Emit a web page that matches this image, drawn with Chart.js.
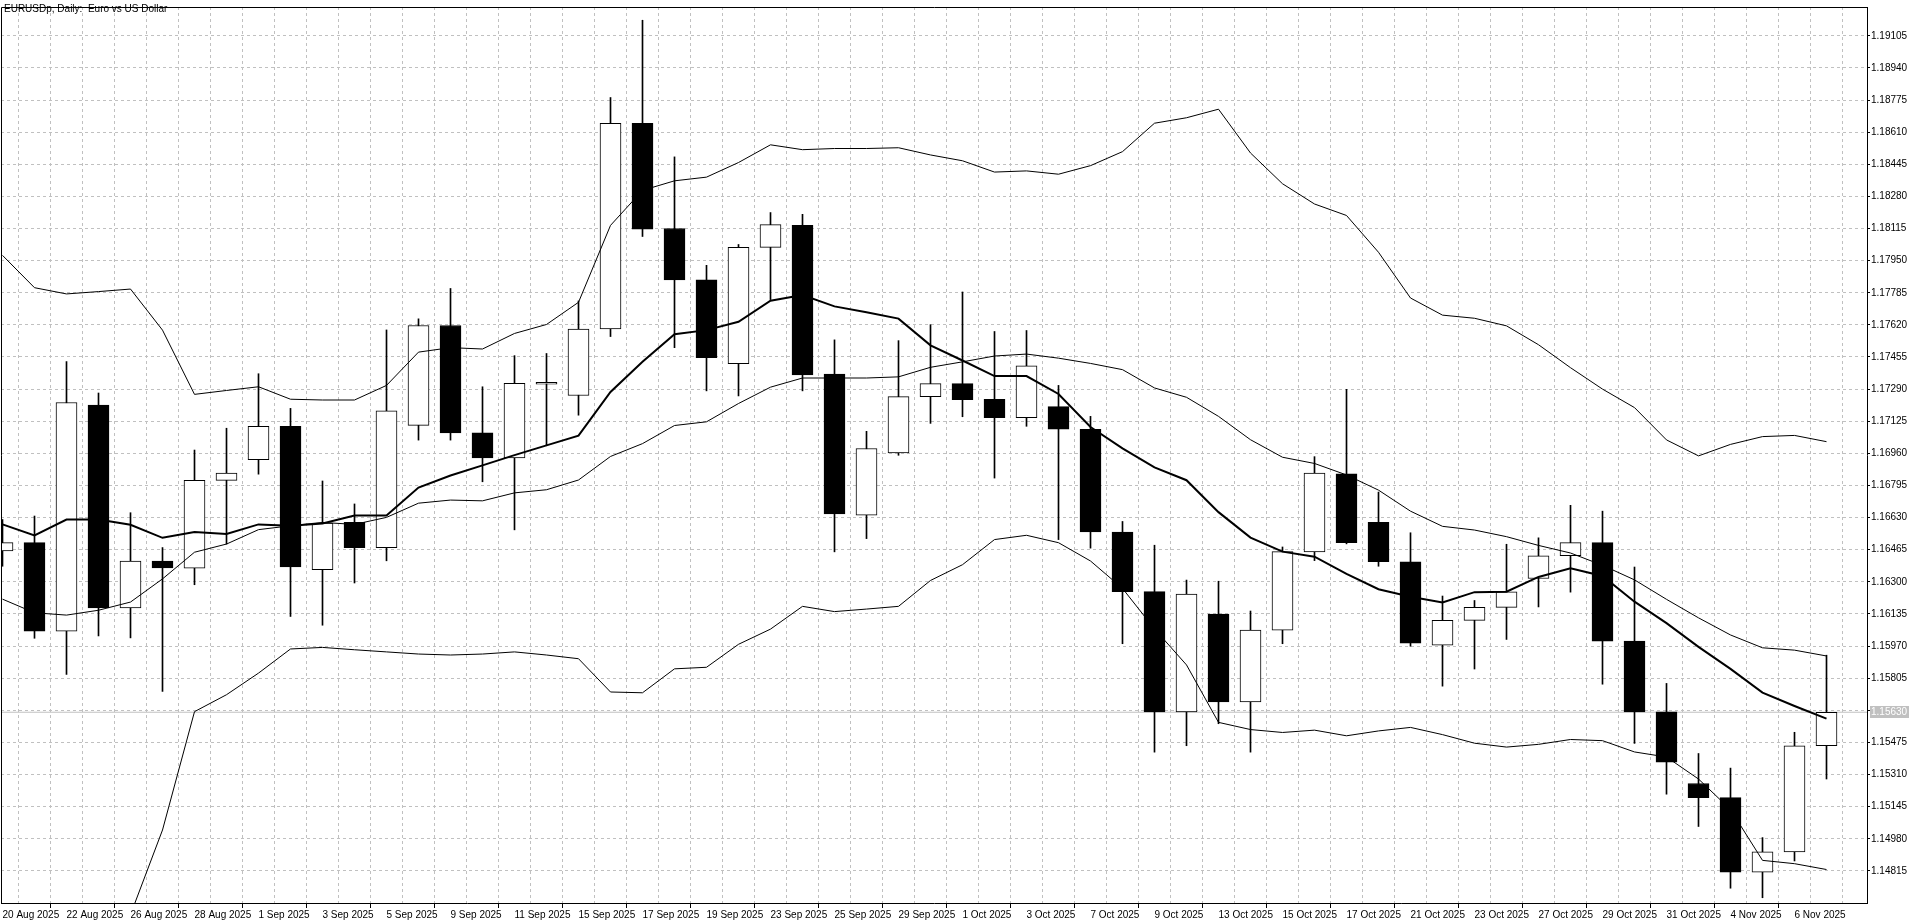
<!DOCTYPE html>
<html>
<head>
<meta charset="utf-8">
<title>EURUSDp, Daily</title>
<script src="https://cdn.jsdelivr.net/npm/chart.js@4.4.1/dist/chart.umd.min.js"></script>
<style>
  html,body{margin:0;padding:0;background:#fff;overflow:hidden}
  #wrap{position:relative;width:1920px;height:923px}
</style>
</head>
<body>
<div id="wrap"><canvas id="chPrice"></canvas></div>
<script>
const TITLE = 'EURUSDp, Daily:  Euro vs US Dollar';

const DATES = ['20 Aug 2025','21 Aug 2025','22 Aug 2025','25 Aug 2025','26 Aug 2025','27 Aug 2025','28 Aug 2025','29 Aug 2025',
  '1 Sep 2025','2 Sep 2025','3 Sep 2025','4 Sep 2025','5 Sep 2025','8 Sep 2025','9 Sep 2025','10 Sep 2025','11 Sep 2025','12 Sep 2025',
  '15 Sep 2025','16 Sep 2025','17 Sep 2025','18 Sep 2025','19 Sep 2025','22 Sep 2025','23 Sep 2025','24 Sep 2025','25 Sep 2025','26 Sep 2025',
  '29 Sep 2025','30 Sep 2025','1 Oct 2025','2 Oct 2025','3 Oct 2025','6 Oct 2025','7 Oct 2025','8 Oct 2025','9 Oct 2025','10 Oct 2025',
  '13 Oct 2025','14 Oct 2025','15 Oct 2025','16 Oct 2025','17 Oct 2025','20 Oct 2025','21 Oct 2025','22 Oct 2025','23 Oct 2025','24 Oct 2025',
  '27 Oct 2025','28 Oct 2025','29 Oct 2025','30 Oct 2025','31 Oct 2025','3 Nov 2025','4 Nov 2025','5 Nov 2025','6 Nov 2025','7 Nov 2025'];

const OPEN  = [1.16459,1.16501,1.16047,1.17208,1.16166,1.16407,1.16370,1.16821,1.16928,1.17099,1.16362,1.16606,1.16476,1.17104,1.17617,
  1.17065,1.16937,1.17315,1.17257,1.17599,1.18655,1.18115,1.17851,1.17421,1.18018,1.18131,1.17367,1.16643,1.16962,1.17251,1.17318,1.17237,
  1.17143,1.17200,1.17084,1.16556,1.16250,1.15632,1.16134,1.15683,1.16052,1.16454,1.16855,1.16605,1.16403,1.15975,1.16102,1.16169,1.16317,
  1.16434,1.16501,1.15996,1.15632,1.15264,1.15191,1.14808,1.14913,1.15458];
const HIGH  = [1.16620,1.16638,1.17431,1.17270,1.16655,1.16476,1.16977,1.17089,1.17369,1.17191,1.16818,1.16700,1.17594,1.17651,1.17807,
  1.17302,1.17462,1.17473,1.17743,1.18788,1.19185,1.18483,1.17926,1.18033,1.18197,1.18188,1.17543,1.17073,1.17539,1.17621,1.17789,1.17586,
  1.17591,1.17309,1.17150,1.16610,1.16488,1.16309,1.16303,1.16150,1.16479,1.16943,1.17289,1.16761,1.16552,1.16227,1.16204,1.16493,1.16526,
  1.16693,1.16663,1.16376,1.15778,1.15418,1.15343,1.14986,1.15527,1.15923];
const LOW   = [1.16380,1.16010,1.15824,1.16022,1.16012,1.15737,1.16285,1.16494,1.16853,1.16122,1.16077,1.16294,1.16408,1.17028,1.17028,
  1.16814,1.16567,1.16999,1.17156,1.17560,1.18074,1.17503,1.17281,1.17255,1.17750,1.17281,1.16454,1.16522,1.16950,1.17114,1.17148,1.16833,
  1.17099,1.16517,1.16473,1.15982,1.15425,1.15458,1.15571,1.15425,1.15982,1.16409,1.16495,1.16380,1.15969,1.15764,1.15852,1.16004,1.16171,
  1.16247,1.15774,1.15470,1.15209,1.15043,1.14726,1.14677,1.14866,1.15287];
const CLOSE = [1.16501,1.16047,1.17221,1.16166,1.16407,1.16372,1.16821,1.16858,1.17099,1.16377,1.16602,1.16476,1.17179,1.17617,1.17065,
  1.16937,1.17320,1.17325,1.17599,1.18655,1.18112,1.17851,1.17451,1.18018,1.18135,1.17363,1.16649,1.16985,1.17251,1.17318,1.17236,1.17143,
  1.17409,1.17084,1.16556,1.16250,1.15632,1.16237,1.15683,1.16052,1.16455,1.16859,1.16501,1.16403,1.15985,1.16102,1.16169,1.16249,1.16434,
  1.16501,1.15995,1.15632,1.15374,1.15191,1.14808,1.14913,1.15458,1.15630];

// Bollinger bands (upper / middle / lower) and the fast moving average (thick line)
const BB_UPPER = [1.17977,1.17811,1.17779,1.17791,1.17804,1.17593,1.17263,1.17283,1.17302,1.17238,1.17234,1.17234,1.17309,1.17480,1.17503,
  1.17496,1.17576,1.17622,1.17736,1.18131,1.18311,1.18360,1.18379,1.18454,1.18545,1.18520,1.18526,1.18526,1.18530,1.18493,1.18463,1.18405,
  1.18411,1.18394,1.18438,1.18510,1.18656,1.18684,1.18728,1.18503,1.18345,1.18241,1.18182,1.17993,1.17758,1.17670,1.17654,1.17615,1.17518,
  1.17400,1.17290,1.17195,1.17029,1.16947,1.17006,1.17046,1.17052,1.17020];
const BB_MID   = [1.16211,1.16141,1.16129,1.16154,1.16196,1.16315,1.16452,1.16494,1.16568,1.16588,1.16605,1.16595,1.16631,1.16704,1.16720,
  1.16716,1.16757,1.16773,1.16823,1.16944,1.17010,1.17103,1.17122,1.17216,1.17300,1.17347,1.17347,1.17347,1.17353,1.17402,1.17430,1.17460,
  1.17470,1.17449,1.17422,1.17390,1.17296,1.17248,1.17150,1.17030,1.16940,1.16908,1.16849,1.16771,1.16663,1.16585,1.16566,1.16532,1.16487,
  1.16448,1.16385,1.16310,1.16210,1.16115,1.16027,1.15961,1.15949,1.15919];
const BB_LOWER = [1.14450,1.14470,1.14480,1.14520,1.14590,1.15025,1.15633,1.15720,1.15831,1.15955,1.15963,1.15951,1.15940,1.15929,1.15924,
  1.15929,1.15940,1.15924,1.15905,1.15734,1.15730,1.15853,1.15861,1.15979,1.16057,1.16174,1.16147,1.16160,1.16174,1.16307,1.16388,1.16517,
  1.16539,1.16501,1.16407,1.16266,1.16058,1.15873,1.15578,1.15541,1.15526,1.15538,1.15509,1.15534,1.15552,1.15515,1.15471,1.15451,1.15465,
  1.15490,1.15484,1.15426,1.15400,1.15287,1.15130,1.14869,1.14852,1.14822];
const MA_FAST  = [1.16595,1.16538,1.16620,1.16620,1.16593,1.16526,1.16556,1.16546,1.16595,1.16588,1.16600,1.16641,1.16641,1.16784,1.16846,
  1.16898,1.16951,1.17001,1.17051,1.17275,1.17430,1.17572,1.17593,1.17636,1.17744,1.17773,1.17715,1.17685,1.17652,1.17515,1.17437,1.17357,
  1.17357,1.17265,1.17095,1.16986,1.16888,1.16822,1.16658,1.16527,1.16455,1.16429,1.16341,1.16262,1.16223,1.16194,1.16247,1.16249,1.16325,
  1.16370,1.16330,1.16198,1.16088,1.15966,1.15853,1.15731,1.15662,1.15597];

const Y_TICKS = [1.14815,1.14980,1.15145,1.15310,1.15475,1.15640,1.15805,1.15970,1.16135,1.16300,1.16465,1.16630,1.16795,1.16960,
  1.17125,1.17290,1.17455,1.17620,1.17785,1.17950,1.18115,1.18280,1.18445,1.18610,1.18775,1.18940,1.19105];
const LAST_PRICE = 1.15630;

// visible window of the price axis and bar axis
const Y_MIN = 1.14650, Y_MAX = 1.19253;
const X_MIN = -0.046875, X_MAX = 58.265625;

const FONT = { family:'"Liberation Sans", Arial, sans-serif', size:10 };
const idx  = DATES.map((_, i) => i);
const pts  = arr => arr.map((v, i) => ({ x:i, y:v }));

// frame, symbol caption and the grey last-price tag
const chrome = {
  id: 'chrome',
  afterDraw(c) {
    const { ctx, chartArea:a, scales:{ y } } = c;
    ctx.save();
    ctx.strokeStyle = '#000'; ctx.lineWidth = 1;
    ctx.beginPath();
    ctx.moveTo(a.left + 0.5, a.bottom); ctx.lineTo(a.left + 0.5, a.top + 0.5); ctx.lineTo(a.right + 0.5, a.top + 0.5);
    ctx.stroke();
    const py = Math.round(y.getPixelForValue(LAST_PRICE));
    ctx.fillStyle = '#c0c0c0'; ctx.fillRect(a.right + 3, py - 6, 39, 12);
    ctx.font = '10px "Liberation Sans", Arial, sans-serif';
    ctx.textBaseline = 'middle'; ctx.fillStyle = '#fff';
    ctx.fillText(LAST_PRICE.toFixed(5), a.right + 4, py + 0.5);
    ctx.textBaseline = 'top'; ctx.fillStyle = '#000';
    ctx.fillText(TITLE, 4, 4);
    ctx.restore();
  }
};

const thin = { type:'line', borderColor:'#000', borderWidth:1, pointRadius:0, tension:0, order:0 };

new Chart(document.getElementById('chPrice'), {
  type: 'bar',
  data: { datasets: [
    { ...thin, label:'MA', data:pts(MA_FAST), borderWidth:2 },
    { ...thin, label:'BB upper', data:pts(BB_UPPER) },
    { ...thin, label:'BB middle', data:pts(BB_MID) },
    { ...thin, label:'BB lower', data:pts(BB_LOWER) },
    { label:'body', data:idx.map(i => ({ x:i, y:[OPEN[i], CLOSE[i]] })), order:1,
      backgroundColor: ctx => (ctx.raw && ctx.raw.y[1] < ctx.raw.y[0]) ? '#000' : '#fff',
      borderColor:'#000', borderWidth:1, borderSkipped:false, barThickness:21, grouped:false },
    { label:'wick', data:idx.map(i => ({ x:i, y:[LOW[i], HIGH[i]] })), order:2,
      backgroundColor:'#000', borderWidth:0, barThickness:1, grouped:false },
    { ...thin, label:'last', data:[{ x:X_MIN, y:LAST_PRICE }, { x:X_MAX, y:LAST_PRICE }], borderColor:'#c0c0c0', order:3 }
  ]},
  options: {
    responsive:true, maintainAspectRatio:false, animation:false, events:[],
    layout:{ padding:{ left:1, top:2, right:0, bottom:0 } },
    plugins:{ legend:{ display:false }, tooltip:{ enabled:false } },
    scales:{
      x:{ type:'linear', min:X_MIN, max:X_MAX, offset:false,
        afterBuildTicks: s => { s.ticks = idx.concat([DATES.length]).map(v => ({ value:v })); },
        afterFit: s => { s.height = 20; },
        ticks:{ autoSkip:false, maxRotation:0, align:'start', padding:1, color:'#000', font:FONT,
          callback: v => (v % 2 === 0 && DATES[v]) ? DATES[v] : '' },
        grid:{ color:'#c0c0c0', lineWidth:1, tickLength:5,
          tickColor: c => (c.tick && c.tick.value % 2 === 0 && c.tick.value < DATES.length) ? '#000' : 'rgba(0,0,0,0)' },
        border:{ color:'#000', width:1, dash:[3,3] } },
      y:{ position:'right', min:Y_MIN, max:Y_MAX,
        afterBuildTicks: s => { s.ticks = Y_TICKS.map(v => ({ value:v })); },
        afterFit: s => { s.width = 53; },
        ticks:{ padding:1, color:'#000', font:FONT,
          callback: v => Math.abs(v - LAST_PRICE) < 0.0004 ? '' : v.toFixed(5) },
        grid:{ color:'#c0c0c0', lineWidth:1, tickLength:3, tickColor:'#000' },
        border:{ color:'#000', width:1, dash:[3,3] } }
    }
  },
  plugins:[chrome]
});
</script>
</body>
</html>
